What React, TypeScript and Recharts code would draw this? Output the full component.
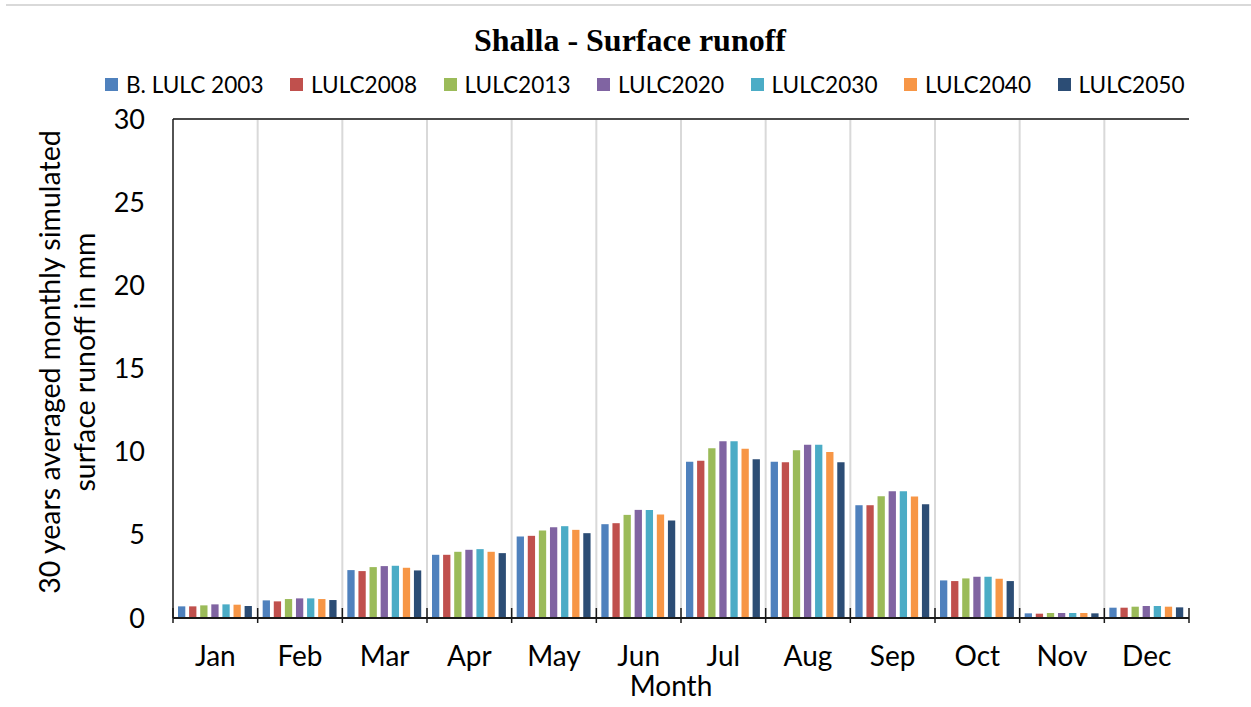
import { BarChart, Bar, XAxis, YAxis, CartesianGrid, ReferenceLine } from 'recharts'

const months = ['Jan', 'Feb', 'Mar', 'Apr', 'May', 'Jun', 'Jul', 'Aug', 'Sep', 'Oct', 'Nov', 'Dec']

const lulc2003 = [0.7, 1.06, 2.88, 3.8, 4.9, 5.64, 9.4, 9.4, 6.78, 2.26, 0.28, 0.62]
const lulc2008 = [0.7, 1.0, 2.82, 3.8, 4.94, 5.7, 9.46, 9.36, 6.78, 2.22, 0.26, 0.62]
const lulc2013 = [0.76, 1.14, 3.06, 3.98, 5.26, 6.2, 10.2, 10.08, 7.32, 2.38, 0.3, 0.68]
const lulc2020 = [0.82, 1.18, 3.12, 4.1, 5.46, 6.5, 10.62, 10.42, 7.62, 2.48, 0.3, 0.72]
const lulc2030 = [0.82, 1.18, 3.14, 4.14, 5.52, 6.5, 10.62, 10.42, 7.62, 2.48, 0.3, 0.72]
const lulc2040 = [0.8, 1.14, 3.02, 3.98, 5.3, 6.22, 10.18, 9.98, 7.3, 2.36, 0.3, 0.68]
const lulc2050 = [0.72, 1.08, 2.86, 3.9, 5.1, 5.86, 9.54, 9.36, 6.84, 2.22, 0.28, 0.64]

const yTicks = [0, 5, 10, 15, 20, 25, 30]

const series = [
  { key: 'lulc2003', name: 'B. LULC 2003', values: lulc2003, color: '#4F81BD' },
  { key: 'lulc2008', name: 'LULC2008', values: lulc2008, color: '#C0504D' },
  { key: 'lulc2013', name: 'LULC2013', values: lulc2013, color: '#9BBB59' },
  { key: 'lulc2020', name: 'LULC2020', values: lulc2020, color: '#8064A2' },
  { key: 'lulc2030', name: 'LULC2030', values: lulc2030, color: '#4BACC6' },
  { key: 'lulc2040', name: 'LULC2040', values: lulc2040, color: '#F79646' },
  { key: 'lulc2050', name: 'LULC2050', values: lulc2050, color: '#2C4D75' },
]

const data = months.map((month, i) => {
  const row: Record<string, string | number> = { month }
  series.forEach(s => {
    row[s.key] = s.values[i]
  })
  return row
})

const FONT = 'Lato, "Open Sans", sans-serif'
const AXIS = '#1a1a1a'

const MonthTick = (props: any) => {
  const { x, y, payload, index, visibleTicksCount, width } = props
  const band = (width || 1016) / (visibleTicksCount || 12)
  const left = x - band / 2
  const right = x + band / 2
  return (
    <g>
      <line x1={left} x2={left} y1={y - 10} y2={y + 5} stroke={AXIS} strokeWidth={1.5} />
      {index === visibleTicksCount - 1 && (
        <line x1={right} x2={right} y1={y - 10} y2={y + 5} stroke={AXIS} strokeWidth={1.5} />
      )}
      <text x={x} y={y + 48} textAnchor="middle" fontSize={28} fill="#000" fontFamily={FONT}>
        {payload.value}
      </text>
    </g>
  )
}

// legend drawn as plain html so it doesn't push the plot down
const LegendRow = () => (
  <div
    style={{
      position: 'absolute',
      top: 71,
      left: 105,
      display: 'flex',
      alignItems: 'center',
      fontFamily: FONT,
      fontSize: 22.6,
      color: '#000',
      whiteSpace: 'nowrap',
    }}
  >
    {series.map(s => (
      <div key={s.key} style={{ display: 'flex', alignItems: 'center', marginRight: 26.5 }}>
        <span style={{ width: 13, height: 13, background: s.color, display: 'inline-block', marginRight: 8 }} />
        <span>{s.name}</span>
      </div>
    ))}
  </div>
)

export default function App() {
  return (
    <div style={{ position: 'absolute', left: 0, top: 0, width: 1251, height: 707, background: '#fff' }}>
      <div style={{ position: 'absolute', left: 6, right: 0, top: 4, height: 2, background: '#d9d9d9' }} />
      <div
        style={{
          position: 'absolute',
          left: 0,
          width: 1260,
          top: 22,
          textAlign: 'center',
          fontFamily: '"Liberation Serif", serif',
          fontWeight: 'bold',
          fontSize: 32,
          color: '#000',
        }}
      >
        Shalla - Surface runoff
      </div>
      <LegendRow />
      <BarChart
        width={1251}
        height={707}
        data={data}
        margin={{ top: 119, right: 62, bottom: 0, left: 113 }}
        barSize={7.3}
        barGap={3.8}
      >
        <CartesianGrid
          stroke="#d9d9d9"
          strokeWidth={2}
          verticalCoordinatesGenerator={({ offset }: any) =>
            months.map((_, i) => offset.left + (i * offset.width) / months.length).slice(1)
          }
        />
        <XAxis
          dataKey="month"
          xAxisId="cat"
          height={89}
          axisLine={{ stroke: AXIS, strokeWidth: 2 }}
          tickLine={false}
          tickSize={0}
          tickMargin={0}
          interval={0}
          tick={<MonthTick />}
        />
        <YAxis
          yAxisId="v"
          width={60}
          domain={[0, 30]}
          ticks={yTicks}
          interval={0}
          axisLine={{ stroke: AXIS, strokeWidth: 1.5 }}
          tickLine={false}
          tickSize={0}
          tickMargin={28}
          tick={{ fontSize: 27, fill: '#000', fontFamily: FONT }}
        />
        <YAxis
          yAxisId="r"
          orientation="right"
          width={0}
          domain={[0, 30]}
          axisLine={{ stroke: AXIS, strokeWidth: 1.5 }}
          tick={false}
          tickLine={false}
        />
        <ReferenceLine yAxisId="v" xAxisId="cat" y={30} stroke={AXIS} strokeWidth={1.5} />
        {series.map(s => (
          <Bar
            key={s.key}
            dataKey={s.key}
            name={s.name}
            fill={s.color}
            xAxisId="cat"
            yAxisId="v"
            isAnimationActive={false}
          />
        ))}
      </BarChart>
      <div
        style={{
          position: 'absolute',
          left: 571,
          width: 200,
          top: 668,
          textAlign: 'center',
          fontFamily: FONT,
          fontSize: 28,
          color: '#000',
          lineHeight: '34px',
        }}
      >
        Month
      </div>
      <svg style={{ position: 'absolute', left: 0, top: 0, pointerEvents: 'none' }} width={130} height={707}>
        <text
          transform="translate(0,362) rotate(-90)"
          textAnchor="middle"
          fontFamily={FONT}
          fontSize={28.5}
          fill="#000"
        >
          <tspan x={0} y={60}>30 years averaged monthly simulated</tspan>
          <tspan x={0} y={95}>surface runoff in mm</tspan>
        </text>
      </svg>
    </div>
  )
}
